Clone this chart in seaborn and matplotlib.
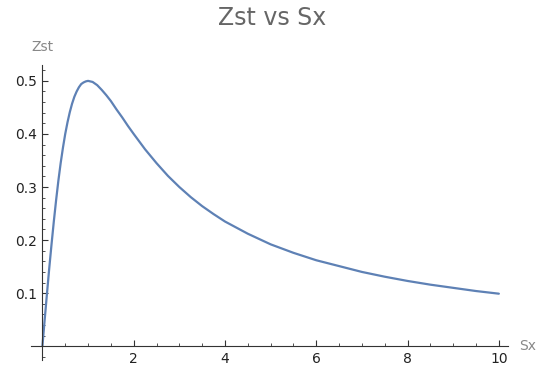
import numpy as np
import pandas as pd
import matplotlib
matplotlib.use("Agg")
import matplotlib.pyplot as plt
import seaborn as sns
from matplotlib.ticker import MultipleLocator

# --- Values ---
sx = [0.0, 0.05, 0.1, 0.15, 0.2, 0.25, 0.3, 0.35, 0.4, 0.45, 0.5, 0.55, 0.6,
      0.65, 0.7, 0.75, 0.8, 0.85, 0.9, 0.95, 1.0, 1.05, 1.1, 1.2, 1.3, 1.4,
      1.5, 1.625, 1.75, 1.875, 2.0, 2.25, 2.5, 2.75, 3.0, 3.25, 3.5, 3.75,
      4.0, 4.5, 5.0, 5.5, 6.0, 6.5, 7.0, 7.5, 8.0, 8.5, 9.0, 9.5, 10.0]
zst = [0.0, 0.050, 0.099, 0.147, 0.192, 0.235, 0.275, 0.312, 0.345, 0.374,
       0.400, 0.422, 0.441, 0.457, 0.470, 0.480, 0.488, 0.494, 0.497, 0.499,
       0.500, 0.499, 0.498, 0.492, 0.483, 0.473, 0.462, 0.446, 0.431, 0.415,
       0.400, 0.371, 0.345, 0.321, 0.300, 0.281, 0.264, 0.249, 0.235, 0.212,
       0.192, 0.176, 0.162, 0.151, 0.140, 0.131, 0.123, 0.116, 0.110, 0.104,
       0.099]
x_ticks = [2, 4, 6, 8, 10]
y_ticks = [0.1, 0.2, 0.3, 0.4, 0.5]

df = pd.DataFrame({"Sx": sx, "Zst": zst})

sns.set_style("white")
plt.rcParams['font.family'] = ['DejaVu Sans']

fig = plt.figure(figsize=(5.38, 3.67), dpi=100)
ax = fig.add_axes([0.0576, 0.019, 0.8866, 0.804])

sns.lineplot(data=df, x="Sx", y="Zst", ax=ax, color="#5E81B5", linewidth=1.6)

# --- Mathematica-like axes crossing at the origin ---
ax.set_xlim(-0.25, 10.2)
ax.set_ylim(-0.026, 0.53)
for side in ["top", "right"]:
    ax.spines[side].set_visible(False)
ax.spines["left"].set_position(("data", 0))
ax.spines["bottom"].set_position(("data", 0))
for side in ["left", "bottom"]:
    ax.spines[side].set_color("#333333")
    ax.spines[side].set_linewidth(0.8)

ax.set_xticks(x_ticks)
ax.set_yticks(y_ticks)
ax.set_yticklabels([f"{v:.1f}" for v in y_ticks])
ax.xaxis.set_minor_locator(MultipleLocator(0.5))
ax.yaxis.set_minor_locator(MultipleLocator(0.02))
ax.tick_params(axis="both", which="major", direction="in", length=4, width=0.8,
               color="#333333", labelsize=10, labelcolor="#222222", pad=4)
ax.tick_params(axis="both", which="minor", direction="in", length=2, width=0.6,
               color="#333333")
ax.tick_params(axis="x", which="both", bottom=True)
ax.tick_params(axis="y", which="both", left=True)

ax.set_xlabel("")
ax.set_ylabel("")
ax.text(10.45, 0.0, "Sx", ha="left", va="center", fontsize=10, color="#888888")
ax.text(0.0, 0.55, "Zst", ha="center", va="bottom", fontsize=10, color="#888888")

fig.text(0.505, 0.95, "Zst vs Sx", ha="center", va="center", fontsize=17,
         color="#666666")

fig.savefig("out.png", dpi=100)
